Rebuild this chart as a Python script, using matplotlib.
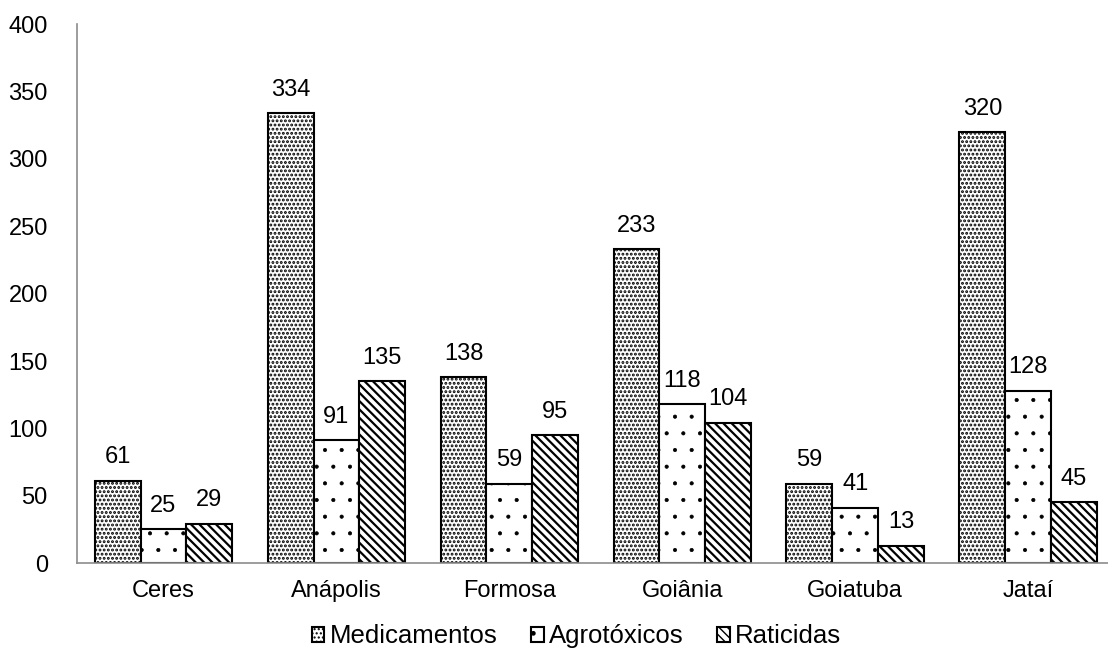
import matplotlib
matplotlib.use("Agg")
import matplotlib.pyplot as plt
import numpy as np

plt.rcParams['font.family'] = ['Liberation Sans', 'DejaVu Sans']

cidades = ["Ceres", "Anápolis", "Formosa", "Goiânia", "Goiatuba", "Jataí"]
medicamentos = [61, 334, 138, 233, 59, 320]
agrotoxicos = [25, 91, 59, 118, 41, 128]
raticidas = [29, 135, 95, 104, 13, 45]
series_nomes = ["Medicamentos", "Agrotóxicos", "Raticidas"]

fig = plt.figure(figsize=(11.08, 6.57), dpi=100)
ax = fig.add_axes([0.0695, 0.143, 0.9365, 0.820])

x = np.arange(len(cidades))
w = 0.265
hatches = ['....', '.', '\\\\\\\\']
hatch_lw = [1.4, 0.5, 1.6]
dados = [medicamentos, agrotoxicos, raticidas]
for k, (vals, h, nome) in enumerate(zip(dados, hatches, series_nomes)):
    with plt.rc_context({'hatch.linewidth': hatch_lw[k]}):
        bars = ax.bar(x + (k - 1) * w, vals, w, color='white', edgecolor='black',
                      linewidth=1.5, hatch=h, label=nome)
    for b, v in zip(bars, vals):
        ax.annotate(str(v), (b.get_x() + b.get_width() / 2, v),
                    xytext=(0, 9), textcoords='offset points',
                    ha='center', va='bottom', fontsize=17)

ax.set_xlim(-0.5, 5.5)
ax.set_ylim(0, 400)
ax.set_yticks(range(0, 401, 50))
ax.set_xticks(x)
ax.set_xticklabels(cidades)
ax.tick_params(axis='both', length=0, labelsize=17)
ax.tick_params(axis='y', pad=21)
ax.tick_params(axis='x', pad=12)
for s in ['top', 'right']:
    ax.spines[s].set_visible(False)
for s in ['left', 'bottom']:
    ax.spines[s].set_color('#8c8c8c')
    ax.spines[s].set_linewidth(1.2)

leg = fig.legend(loc='lower center', bbox_to_anchor=(0.52, -0.022), ncol=3,
                 frameon=False, fontsize=18.5, handlelength=0.5, handleheight=0.5,
                 handletextpad=0.2, columnspacing=1.3)

fig.savefig("out.png", dpi=100)
